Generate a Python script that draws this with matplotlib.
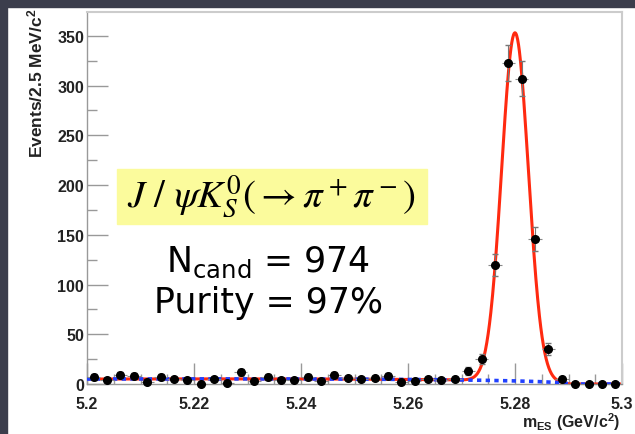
import numpy as np
import matplotlib.pyplot as plt
from matplotlib.patches import Rectangle
from matplotlib.ticker import MultipleLocator

plt.rcParams['mathtext.fontset'] = 'custom'
plt.rcParams['mathtext.rm'] = 'Liberation Sans:bold'
plt.rcParams['mathtext.bf'] = 'Liberation Sans:bold'
plt.rcParams['mathtext.it'] = 'Liberation Sans:italic:bold'

# m_ES histogram, 2.5 MeV bins from 5.20 to 5.30 GeV/c^2
bin_lo = 5.20
bin_w = 0.0025
counts = [7, 4, 9, 8, 2, 7, 5, 4, 0, 5,
          1, 12, 3, 7, 4, 4, 7, 3, 9, 6,
          5, 6, 8, 2, 3, 5, 4, 5, 13, 25,
          120, 323, 307, 146, 35, 5, 0, 0, 0, 0]

# fit result: gaussian signal + ARGUS background
sig_mean = 5.2800
sig_sigma = 0.0025
sig_peak = 350.0
argus_end = 5.29
argus_c = -20.0
bkg_at_low = 5.0

counts = np.array(counts, dtype=float)
centers = bin_lo + bin_w * (np.arange(len(counts)) + 0.5)
yerr = np.sqrt(counts)


def argus(m):
    z = np.clip(1 - (m / argus_end) ** 2, 0, None)
    return m * np.sqrt(z) * np.exp(argus_c * z)


m = np.linspace(5.2, 5.3, 1200)
bkg = bkg_at_low * argus(m) / argus(np.array([5.2]))[0]
total = bkg + sig_peak * np.exp(-0.5 * ((m - sig_mean) / sig_sigma) ** 2)

fig = plt.figure(figsize=(6.35, 4.35), dpi=100)
fig.patch.set_facecolor('white')
# dark frame strip on top and left
fig.patches.append(Rectangle((0, 1 - 8 / 435), 1, 8 / 435, transform=fig.transFigure,
                             color='#3b3e4c', zorder=0))
fig.patches.append(Rectangle((0, 0), 7 / 635, 1, transform=fig.transFigure,
                             color='#3b3e4c', zorder=0))

ax = fig.add_axes([87 / 635, 50 / 435, 535 / 635, 372 / 435])
ax.set_xlim(5.2, 5.3)
ax.set_ylim(0, 374)

ax.plot(m, total, color='#ff2a10', lw=2.2, zorder=2)
ax.plot(m, bkg, color='#2040ff', lw=2.6, ls=(0, (1.2, 1.2)), zorder=3)

ax.errorbar(centers, counts, xerr=bin_w / 2, fmt='none', ecolor='#888888',
            elinewidth=0.8, ls=':', zorder=4, clip_on=False)
ax.errorbar(centers, counts, yerr=yerr, fmt='none', ecolor='#777777',
            elinewidth=0.8, capsize=2, zorder=4, clip_on=False)
ax.plot(centers, counts, 'o', color='black', ms=5.5, zorder=5, clip_on=False)

for s in ax.spines.values():
    s.set_color('#999999')
    s.set_linewidth(1.0)
ax.spines['top'].set_color('#cccccc')
ax.spines['right'].set_color('#cccccc')
ax.spines['top'].set_linewidth(1.5)
ax.spines['right'].set_linewidth(1.5)

ax.xaxis.set_major_locator(MultipleLocator(0.02))
ax.xaxis.set_minor_locator(MultipleLocator(0.005))
ax.yaxis.set_major_locator(MultipleLocator(50))
ax.yaxis.set_minor_locator(MultipleLocator(25))
ax.tick_params(which='both', direction='in', color='#999999', width=1)
ax.tick_params(which='major', length=15)
ax.tick_params(which='minor', length=7)
ax.tick_params(axis='x', pad=9)
ax.tick_params(axis='y', pad=2)
ax.set_xticks([5.2, 5.22, 5.24, 5.26, 5.28, 5.3])
ax.set_xticklabels(['5.2', '5.22', '5.24', '5.26', '5.28', '5.3'])
for lab in ax.get_xticklabels() + ax.get_yticklabels():
    lab.set_fontfamily('Liberation Sans')
    lab.set_fontweight('bold')
    lab.set_fontsize(11.5)
    lab.set_color('#222222')

fig.text(35 / 635, 1 - 9 / 435, r'Events/2.5 MeV/c$^{2}$', rotation=90,
         ha='center', va='top', fontsize=12.5, fontweight='bold',
         family='Liberation Sans', color='#222222')
fig.text(620 / 635, 1 - 433 / 435, r'm$_{\mathrm{ES}}$ (GeV/c$^{2}$)',
         ha='right', va='bottom', fontsize=11.5, fontweight='bold',
         family='Liberation Sans', color='#222222')

# decay mode box
fig.patches.append(Rectangle((117 / 635, 1 - 225 / 435), 310 / 635, 55 / 435,
                             transform=fig.transFigure, color='#fbfb9c', zorder=1))
fig.text(271 / 635, 1 - 197 / 435,
         r'$J\ /\ \psi K_S^0(\rightarrow \pi^+\pi^-)$',
         ha='center', va='center', fontsize=28, color='black', zorder=2,
         math_fontfamily='stix')
fig.text(268 / 635, 1 - 262 / 435, r'N$_{\mathregular{cand}}$ = 974',
         ha='center', va='center', fontsize=25, family='DejaVu Sans', color='black',
         math_fontfamily='dejavusans')
fig.text(268 / 635, 1 - 303 / 435, 'Purity = 97%',
         ha='center', va='center', fontsize=25, family='DejaVu Sans', color='black')

fig.savefig('out.png', dpi=100)
